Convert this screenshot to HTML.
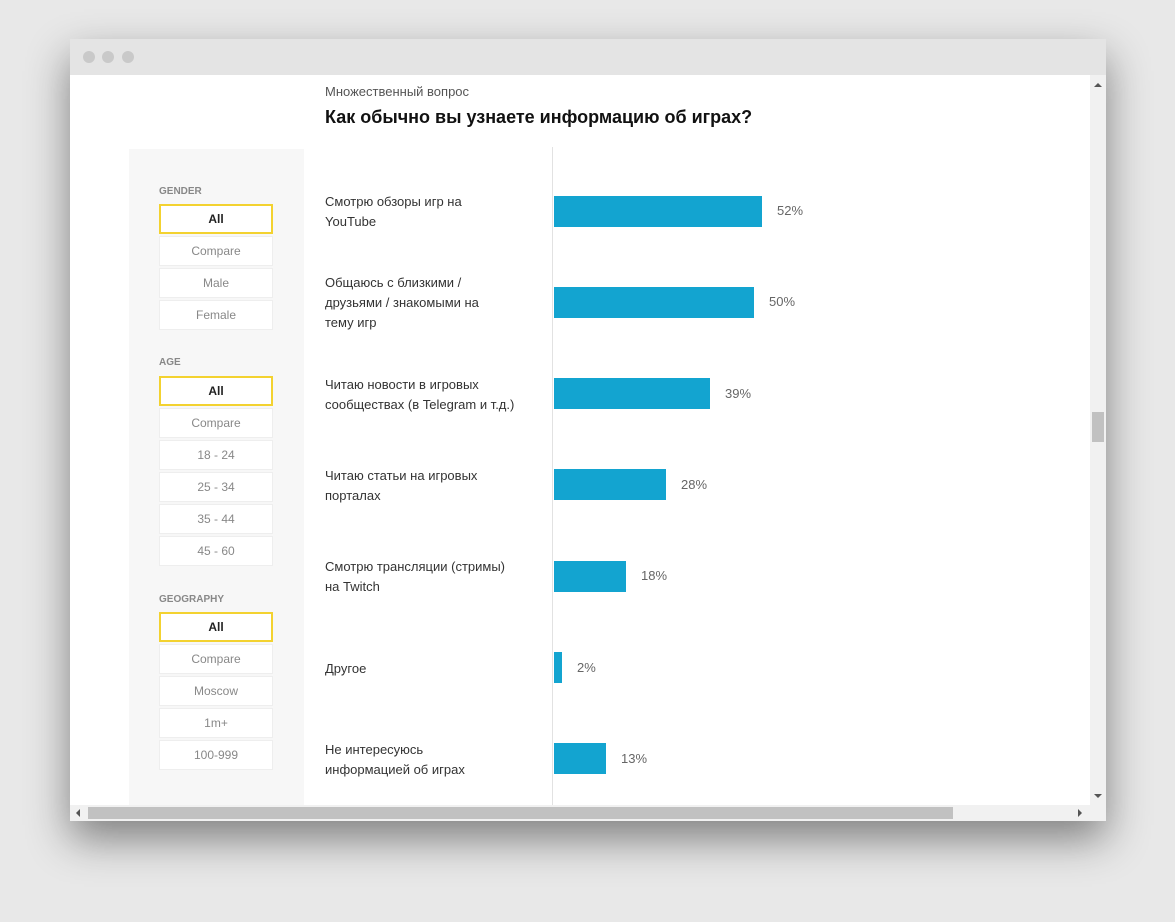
<!DOCTYPE html>
<html><head><meta charset="utf-8">
<style>
body{margin:0;width:1175px;height:922px;background:#e8e8e8;font-family:"Liberation Sans","DejaVu Sans",sans-serif;position:relative;overflow:hidden}
.win{position:absolute;left:70px;top:39px;width:1036px;height:782px;background:#fff;box-shadow:0 18px 40px rgba(0,0,0,.45)}
.bar-top{position:absolute;left:0;top:0;width:1036px;height:36px;background:#e4e4e4}
.dot{position:absolute;top:12px;width:12px;height:12px;border-radius:6px;background:#c9c9c9}
.side{position:absolute;left:59px;top:110px;width:175px;height:656px;background:#f7f7f7}
.lbl{position:absolute;left:89px;font-size:10px;color:#888;font-weight:bold}
.btn{position:absolute;left:89px;width:114px;height:30px;background:#fff;border:1px solid #eee;box-sizing:border-box;text-align:center;line-height:28px;font-size:12px;color:#888}
.btn.sel{border:2px solid #f3d230;color:#222;font-weight:bold;line-height:26px}
.q{position:absolute;left:255px;font-size:13px;color:#333;line-height:20px}
</style></head><body>
<div class="win">
<div class="bar-top">
<div class="dot" style="left:13px"></div>
<div class="dot" style="left:32px"></div>
<div class="dot" style="left:52px"></div>
</div>
<div style="position:absolute;left:255px;top:45px;font-size:13px;color:#555">Множественный вопрос</div>
<div style="position:absolute;left:255px;top:68px;font-size:18px;font-weight:bold;color:#111">Как обычно вы узнаете информацию об играх?</div>
<div class="side"></div>
<div class="lbl" style="top:147px">GENDER</div>
<div class="btn sel" style="top:165px">All</div>
<div class="btn" style="top:197px">Compare</div>
<div class="btn" style="top:229px">Male</div>
<div class="btn" style="top:261px">Female</div>
<div class="lbl" style="top:318px">AGE</div>
<div class="btn sel" style="top:337px">All</div>
<div class="btn" style="top:369px">Compare</div>
<div class="btn" style="top:401px">18 - 24</div>
<div class="btn" style="top:433px">25 - 34</div>
<div class="btn" style="top:465px">35 - 44</div>
<div class="btn" style="top:497px">45 - 60</div>
<div class="lbl" style="top:555px">GEOGRAPHY</div>
<div class="btn sel" style="top:573px">All</div>
<div class="btn" style="top:605px">Compare</div>
<div class="btn" style="top:637px">Moscow</div>
<div class="btn" style="top:669px">1m+</div>
<div class="btn" style="top:701px">100-999</div>
<div id="chart"></div>
<div style="position:absolute;left:482px;top:108px;width:1px;height:658px;background:#e2e2e2"></div>
<div style="position:absolute;left:1020px;top:36px;width:16px;height:730px;background:#f1f1f1">
<div style="position:absolute;left:2px;top:337px;width:12px;height:30px;background:#c1c1c1"></div>
<div style="position:absolute;left:4px;top:8px;border:4px solid transparent;border-bottom:4px solid #555;border-top:0"></div>
<div style="position:absolute;left:4px;top:719px;border:4px solid transparent;border-top:4px solid #555;border-bottom:0"></div>
</div>
<div style="position:absolute;left:0;top:766px;width:1036px;height:16px;background:#f1f1f1">
<div style="position:absolute;left:18px;top:2px;width:865px;height:12px;background:#c1c1c1"></div>
<div style="position:absolute;left:1008px;top:4px;border:4px solid transparent;border-left:4px solid #555;border-right:0"></div>
<div style="position:absolute;left:6px;top:4px;border:4px solid transparent;border-right:4px solid #555;border-left:0"></div>
</div>
</div>
<script>
const categories=[["Смотрю обзоры игр на","YouTube"],["Общаюсь с близкими /","друзьями / знакомыми на","тему игр"],["Читаю новости в игровых","сообществах (в Telegram и т.д.)"],["Читаю статьи на игровых","порталах"],["Смотрю трансляции (стримы)","на Twitch"],["Другое"],["Не интересуюсь","информацией об играх"]];
const values=[52,50,39,28,18,2,13];
const win=document.querySelector('.win');
const x0=484, pxPer=4, y0=172, step=91.3, bh=31;
function xs(v){return v*pxPer;}
function yc(i){return y0+i*step;}
categories.forEach((c,i)=>{
 const l=document.createElement('div');l.className='q';
 
 
 l.style.top=(yc(i)-c.length*10+1)+'px';l.innerHTML=c.join('<br>');win.appendChild(l);
 const b=document.createElement('div');
 
 
 b.style.cssText=`position:absolute;left:${x0}px;top:${yc(i)-bh/2}px;width:${xs(values[i])}px;height:${bh}px;background:#13a4d0`;
 win.appendChild(b);
 const t=document.createElement('div');
 
 
 t.style.cssText=`position:absolute;left:${x0+xs(values[i])+15}px;top:${yc(i)-8}px;font-size:13px;color:#666`;
 t.textContent=values[i]+'%';win.appendChild(t);
});
</script>
</body></html>
